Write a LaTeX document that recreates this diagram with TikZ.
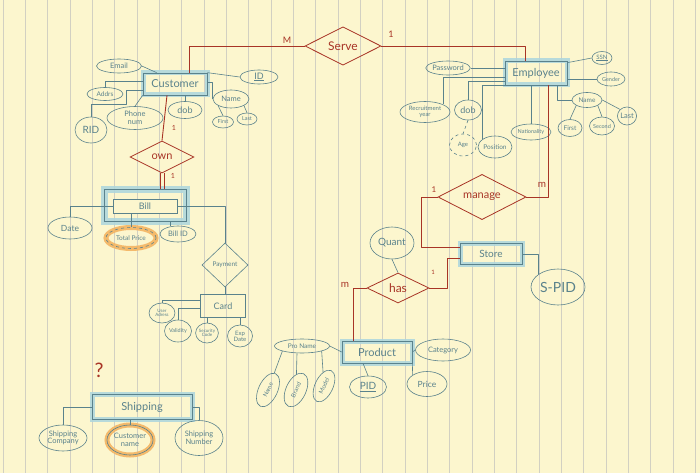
\documentclass[tikz,border=0pt]{standalone}
\usepackage{fontspec}
\setmainfont{Lato}
\usetikzlibrary{shapes.geometric}
\definecolor{paper}{RGB}{252,246,206}
\definecolor{rulec}{RGB}{210,208,194}
\definecolor{inkb}{RGB}{90,130,140}
\definecolor{inkr}{RGB}{168,52,38}
\definecolor{hib}{RGB}{172,214,222}
\definecolor{hio}{RGB}{244,180,98}
\newcommand{\fs}[1]{\fontsize{#1}{#1}\selectfont}
\begin{document}
\begin{tikzpicture}[x=1pt,y=-1pt,
 ent/.style={rectangle, draw=inkb, line width=0.7pt, inner sep=0pt, text=inkb, font=\fs{11}},
 hl/.style={preaction={draw=hib, solid, line width=5pt, opacity=0.85}},
 ho/.style={preaction={draw=hio, solid, line width=5pt, opacity=0.9}},
 att/.style={ellipse, draw=inkb, line width=0.6pt, inner sep=0pt, text=inkb, align=center, font=\fs{7.5}},
 rel/.style={diamond, draw=inkr, line width=0.8pt, inner sep=0pt, text=inkr, font=\fs{11}},
 ln/.style={draw=inkb, line width=0.6pt, line join=round},
 rln/.style={draw=inkr, line width=0.9pt, line join=round},
 lbl/.style={text=inkr, font=\fs{9}, inner sep=0pt},
 rulel/.style={draw=rulec, line width=0.7pt}]
% paper
\fill[paper] (0,0) rectangle (700,473);
\useasboundingbox (0,0) rectangle (700,473);
\foreach \i in {0,...,31} \draw[rulel] ({3+22.33*\i},0) -- ({3+22.33*\i},473);

% ---------- relationships ----------
\node[rel, minimum width=76pt, minimum height=36pt, font=\fs{12}] (serve) at (343,46) {Serve};
\node[rel, minimum width=64pt, minimum height=32pt] (own) at (162,157) {own};
\node[rel, minimum width=88pt, minimum height=28pt] (manage) at (482,197) {manage};
\node[rel, minimum width=62pt, minimum height=30pt, font=\fs{12}] (has) at (398,288) {has};
\node[diamond, draw=inkb, line width=0.6pt, inner sep=0pt, text=inkb, font=\fs{6.5}, minimum width=46pt, minimum height=44pt] (pay) at (225,265) {Payment};

% ---------- entities ----------
\node[ent, hl, minimum width=64pt, minimum height=22pt] (cust) at (175,84) {Customer};
\node[ent, hl, minimum width=62pt, minimum height=24pt] (emp) at (536,73) {Employee};
\node[ent, preaction={draw=hib, line width=7pt, opacity=0.85}, minimum width=82pt, minimum height=32pt] (bill) at (145,205) {};
\node[ent, fill=paper, minimum width=64pt, minimum height=14pt, font=\fs{9}] (billin) at (145,206) {Bill};
\node[ent, minimum width=45pt, minimum height=23pt, font=\fs{9}] (card) at (223,306) {Card};
\node[ent, hl, minimum width=62pt, minimum height=21pt, font=\fs{10}] (store) at (491,254) {Store};
\node[ent, hl, minimum width=70pt, minimum height=22pt] (prod) at (377,352) {Product};
\node[ent, hl, minimum width=100pt, minimum height=25pt] (ship) at (142,407) {Shipping};

% ---------- customer attributes ----------
\node[att, minimum width=45pt, minimum height=14pt] (email) at (119,66) {Email};
\node[att, minimum width=36pt, minimum height=13pt, font=\fs{6.5}] (addr) at (105,94) {Addrs};
\node[att, minimum width=56pt, minimum height=23pt] (phone) at (135,118) {Phone\\num};
\node[att, minimum width=32pt, minimum height=26pt, font=\fs{10}] (rid) at (91,130) {RID};
\node[att, minimum width=34pt, minimum height=17pt, font=\fs{9}] (cdob) at (185,110) {dob};
\node[att, minimum width=38pt, minimum height=14pt, font=\fs{9}] (cid) at (259,77) {\underline{ID}};
\node[att, minimum width=36pt, minimum height=18pt] (cname) at (231,99) {Name};
\node[att, minimum width=21pt, minimum height=12pt, font=\fs{5.5}] (cfirst) at (223,122) {First};
\node[att, minimum width=20pt, minimum height=12pt, font=\fs{5.5}] (clast) at (247,119) {Last};

% ---------- employee attributes ----------
\node[att, minimum width=44pt, minimum height=14pt] (pw) at (448,68) {Password};
\node[att, minimum width=50pt, minimum height=21pt, font=\fs{6}] (ry) at (425,112) {Recruitment\\year};
\node[att, minimum width=27pt, minimum height=20pt, font=\fs{9}] (edob) at (468,110) {dob};
\node[att, dashed, minimum width=27pt, minimum height=22pt, font=\fs{6}] (age) at (463,145) {Age};
\node[att, minimum width=34pt, minimum height=22pt, font=\fs{6.5}] (pos) at (495,147) {Position};
\node[att, minimum width=40pt, minimum height=16pt, font=\fs{5.5}] (nat) at (531,132) {Nationality};
\node[att, minimum width=20pt, minimum height=13pt, font=\fs{6}] (ssn) at (602,58) {\underline{SSN}};
\node[att, minimum width=28pt, minimum height=14pt, font=\fs{5.5}] (gen) at (611,79) {Gender};
\node[att, minimum width=30pt, minimum height=15pt, font=\fs{6.5}] (ename) at (587,100) {Name};
\node[att, minimum width=24pt, minimum height=17pt, font=\fs{6.5}] (efirst) at (570,128) {First};
\node[att, minimum width=21pt, minimum height=18pt, font=\fs{5.5}] (esec) at (602,126) {Second};
\node[att, minimum width=18pt, minimum height=18pt, font=\fs{7.5}] (elast) at (627,116) {Last};

% ---------- bill attributes ----------
\node[att, minimum width=44pt, minimum height=22pt, font=\fs{8.5}] (date) at (70,228) {Date};
\node[att, dashed, ho, minimum width=50pt, minimum height=21pt, font=\fs{6.5}] (tp) at (131,238) {Total Price};
\node[att, minimum width=36pt, minimum height=16pt] (bid) at (178,234) {Bill ID};

% ---------- card attributes ----------
\node[att, minimum width=26pt, minimum height=20pt, font=\fs{4.5}] (ua) at (162,313) {User\\Adress};
\node[att, minimum width=27pt, minimum height=22pt, font=\fs{5.5}] (val) at (178,331) {Validity};
\node[att, minimum width=22pt, minimum height=20pt, font=\fs{4.5}] (sc) at (207,333) {Security\\Code};
\node[att, minimum width=25pt, minimum height=22pt, font=\fs{6}] (ed) at (240,336) {Exp\\Date};

% ---------- store / product attributes ----------
\node[att, minimum width=44pt, minimum height=32pt, font=\fs{10}] (quant) at (392,243) {Quant};
\node[att, minimum width=54pt, minimum height=36pt, font=\fs{14}] (spid) at (558,287) {S-PID};
\node[att, minimum width=55pt, minimum height=14pt, font=\fs{6.5}] (pname) at (302,346) {Pro Name};
\node[att, rotate=65, minimum width=36pt, minimum height=19pt, font=\fs{6}] (pn1) at (268,390) {Name};
\node[att, rotate=65, minimum width=36pt, minimum height=20pt, font=\fs{6}] (pn2) at (296,390) {Brand};
\node[att, rotate=65, minimum width=34pt, minimum height=18pt, font=\fs{6}] (pn3) at (324,386) {Model};
\node[att, minimum width=37pt, minimum height=22pt, font=\fs{10}] (pid) at (368,387) {\underline{PID}};
\node[att, minimum width=40pt, minimum height=25pt, font=\fs{8.5}] (price) at (427,384) {Price};
\node[att, minimum width=55pt, minimum height=22pt] (cat) at (443,350) {Category};

% ---------- shipping attributes ----------
\node[att, minimum width=48pt, minimum height=26pt] (scomp) at (63,438) {Shipping\\Company};
\node[att, ho, minimum width=46pt, minimum height=30pt] (custn) at (130,440) {Customer\\name};
\node[att, minimum width=48pt, minimum height=35pt] (snum) at (199,438) {Shipping\\Number};

% ---------- red connectors ----------
\draw[rln] (serve.west) -| ([xshift=14pt]cust.north);
\draw[rln] (serve.east) -| ([xshift=-11pt]emp.north);
\draw[rln] ([xshift=-8pt]cust.south) -- (own.north);
\draw[rln] ([xshift=-2pt]own.south) -- ([xshift=-2pt]own.south |- bill.north);
\draw[rln] ([xshift=2pt]own.south) -- ([xshift=2pt]own.south |- bill.north);
\draw[rln] ([xshift=12pt]emp.south) |- (manage.east);
\coordinate (mk) at (421,247);
\draw[rln] (manage.west) -| (mk) -- (mk -| store.west);
\coordinate (hk) at (447,258);
\draw[rln] (has.east) -| (hk) -- (hk -| store.west);
\draw[rln] (has.west) -| ([xshift=-24pt]prod.north);

% cardinalities
\node[lbl] (lm1) at (287,40) {M};
\node[lbl] (l11) at (391,34) {1};
\node[lbl, font=\fs{7}] (l12) at (174,128) {1};
\node[lbl, font=\fs{7}] (l13) at (173,176) {1};
\node[lbl, font=\fs{8}] (l14) at (434,190) {1};
\node[lbl, font=\fs{10}] (lm2) at (542,185) {m};
\node[lbl, font=\fs{10}] (lm3) at (345,285) {m};
\node[lbl, font=\fs{6}] (l15) at (433,272) {1};
\node[lbl, font=\fs{20}] (q) at (99,370) {?};

% ---------- blue connectors ----------
% customer
\draw[ln] (email.east) -- ([xshift=14pt]cust.north west);
\draw[ln] (addr.north) |- ([yshift=3pt]cust.west);
\draw[ln] (phone.north) -- (cust.south west);
\coordinate (ridk) at (126,104);
\draw[ln] (rid.north) |- (ridk) |- ([yshift=-6pt]cust.west);
\draw[ln] (cdob.north) -- (cdob.north |- cust.south);
\draw[ln] (cust.north east) -- (cid.west);
\draw[ln] ([yshift=2pt]cust.east) -| (cname.west);
\draw[ln] (cname.south west) -- (cfirst.north);
\draw[ln] (cname.south east) -- (clast.north);
% employee
\draw[ln] (pw.east) -- ([yshift=5pt]emp.west);
\draw[ln] (ry.north east) |- ([yshift=-4pt]emp.west);
\draw[ln] (edob.north) |- ([yshift=-8pt]emp.west);
\draw[ln, dashed] (edob.south) -- (age.north);
\draw[ln] (pos.north west) |- (emp.south west);
\draw[ln] (nat.north) -- (nat.north |- emp.south);
\draw[ln] ([yshift=-2pt]emp.north east) -- (ssn.west);
\draw[ln] ([yshift=-6pt]emp.east) -- (gen.west);
\draw[ln] ([xshift=-10pt]emp.south east) |- (ename.west);
\draw[ln] (ename.south west) -- (efirst.north);
\draw[ln] (ename.south east) -- (esec.north);
\draw[ln] (ename.east) -- (elast.north west);
% bill
\draw[ln] (billin.west) -| (date.north);
\draw[ln] (tp.north) -- (tp.north |- billin.south);
\draw[ln] ([xshift=-8pt]bid.north) -- ([xshift=-8pt]bid.north |- bill.south);
\draw[ln] (billin.east) -| (pay.north);
\draw[ln] (pay.south) -- (pay.south |- card.north);
% card
\draw[ln] (ua.north) |- ([yshift=6pt]card.west);
\draw[ln] (val.north) |- ([yshift=-2pt]card.west);
\draw[ln] (sc.north) -- (sc.north |- card.south);
\draw[ln] (ed.north) -- (ed.north |- card.south);
% store / product
\draw[ln] (has.north) -- (quant.south);
\draw[ln] (store.east) -| (spid.north west);
\draw[ln] (pname.east) -- (prod.west);
\draw[ln] (pname.south west) -- (pn1);
\draw[ln] ([xshift=-5pt]pname.south) -- (pn2);
\draw[ln] (pname.south east) -- (pn3);
\draw[ln] (pid.north) -- ([xshift=-14pt]prod.south);
\draw[ln] (price.north west) -- (prod.south east);
\draw[ln] (cat.west) -- (prod.east);
% shipping
\draw[ln] (ship.west) -| (scomp.north);
\draw[ln] (custn.north) -- (custn.north |- ship.south);
\draw[ln] (ship.east) -| (snum.north);
\end{tikzpicture}
\end{document}
